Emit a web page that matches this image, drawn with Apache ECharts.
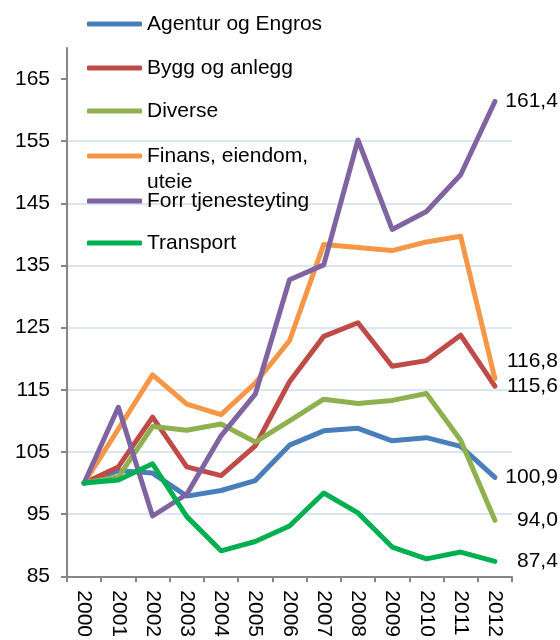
<!DOCTYPE html>
<html>
<head>
<meta charset="utf-8">
<script src="https://cdn.jsdelivr.net/npm/echarts@6/dist/echarts.min.js"></script>
<style>
  html, body { margin: 0; padding: 0; background: #fff; }
  #chart { width: 560px; height: 640px; }
</style>
</head>
<body>
<div id="chart"></div>
<script>
// index, 2000 = 100
const years = ['2000','2001','2002','2003','2004','2005','2006','2007','2008','2009','2010','2011','2012'];
const yTicks = [85, 95, 105, 115, 125, 135, 145, 155, 165];

const agentur   = [100, 102.0, 101.6, 97.9, 98.8, 100.4, 106.1, 108.4, 108.8, 106.8, 107.3, 105.9, 100.9];
const bygg      = [100, 102.6, 110.6, 102.6, 101.2, 106.0, 116.3, 123.6, 125.8, 118.8, 119.7, 123.8, 115.6];
const diverse   = [100, 101.0, 109.1, 108.5, 109.5, 106.6, 110.0, 113.5, 112.8, 113.3, 114.4, 106.9, 94.0];
const finans    = [100, 108.7, 117.4, 112.7, 111.0, 116.1, 122.9, 138.4, 137.9, 137.4, 138.8, 139.7, 116.8];
const forr      = [100, 112.2, 94.7, 98.2, 107.6, 114.3, 132.7, 135.1, 155.2, 140.8, 143.7, 149.6, 161.4];
const transport = [100, 100.5, 103.1, 94.6, 89.1, 90.6, 93.1, 98.4, 95.2, 89.7, 87.8, 88.9, 87.4];

const names  = ['Agentur og Engros', 'Bygg og anlegg', 'Diverse', 'Finans, eiendom, uteie', 'Forr tjenesteyting', 'Transport'];
const colors = ['#4A7EBB', '#BE4B48', '#8FB04F', '#F79646', '#8064A2', '#00B050'];
const values = [agentur, bygg, diverse, finans, forr, transport];

const font = 'Arial, "Liberation Sans", sans-serif';
const legendTops = [13, 57, 100, 117, 190, 232];

let legends = names.map(function (n, i) {
    let lg = {
        data: [n],
        left: 87,
        top: legendTops[i],
        padding: 0,
        orient: 'vertical',
        icon: 'roundRect',
        itemWidth: 55,
        itemHeight: 5,
        selectedMode: false,
        textStyle: { color: '#000', fontSize: 21, fontFamily: font, lineHeight: 22 }
    };
    if (i === 3) {
        // empty first line keeps the icon level with "Finans"
        lg.formatter = '\nFinans, eiendom,\nuteie';
        lg.textStyle.lineHeight = 26;
    }
    return lg;
});

let series = names.map(function (n, i) {
    return {
        name: n,
        type: 'line',
        data: values[i],
        symbol: 'none',
        lineStyle: { width: 5, color: colors[i], cap: 'round', join: 'round' },
        itemStyle: { color: colors[i] },
        endLabel: {
            show: true,
            distance: 63,
            align: 'right',
            offset: i === 3 ? [0, -17] : [0, 0],
            color: '#000',
            fontSize: 21,
            fontFamily: font,
            formatter: function (p) {
                return Number(p.value).toFixed(1).replace('.', ',');
            }
        }
    };
});

let chart = echarts.init(document.getElementById('chart'));
chart.setOption({
    animation: false,
    backgroundColor: '#fff',
    legend: legends,
    grid: { left: 67, right: 48, top: 48, bottom: 60 },
    xAxis: {
        type: 'category',
        data: years,
        boundaryGap: true,
        axisLine: { lineStyle: { color: '#868686', width: 2 } },
        axisTick: { show: true, length: 6, lineStyle: { color: '#868686', width: 2 } },
        axisLabel: { rotate: -90, margin: 14, color: '#000', fontSize: 21, fontFamily: font, interval: 0 },
        splitLine: { show: false }
    },
    yAxis: {
        type: 'value',
        min: 85,
        max: 170,
        axisLine: { show: true, lineStyle: { color: '#868686', width: 2 } },
        axisTick: { show: true, length: 6, lineStyle: { color: '#868686', width: 2 }, customValues: yTicks },
        axisLabel: { color: '#000', fontSize: 21, fontFamily: font, margin: 17, customValues: yTicks },
        splitLine: { show: true, showMaxLine: false, lineStyle: { color: '#DCE6F2', width: 2 } }
    },
    series: series
});
</script>
</body>
</html>
